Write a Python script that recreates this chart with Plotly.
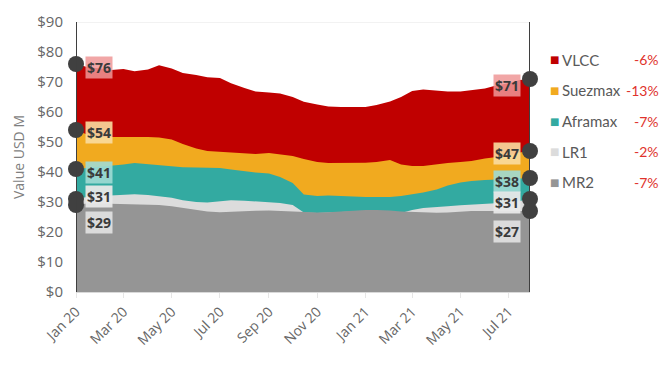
import plotly.graph_objects as go

# ---------------- data ----------------
dates = ["2020-01-01", "2020-01-15", "2020-02-01", "2020-02-15", "2020-03-01", "2020-03-15",
         "2020-04-01", "2020-04-15", "2020-05-01", "2020-05-15", "2020-06-01", "2020-06-15",
         "2020-07-01", "2020-07-15", "2020-08-01", "2020-08-15", "2020-09-01", "2020-09-15",
         "2020-10-01", "2020-10-15", "2020-11-01", "2020-11-15", "2020-12-01", "2020-12-15",
         "2021-01-01", "2021-01-15", "2021-02-01", "2021-02-15", "2021-03-01", "2021-03-15",
         "2021-04-01", "2021-04-15", "2021-05-01", "2021-05-15", "2021-06-01", "2021-06-15",
         "2021-07-01", "2021-07-15", "2021-07-28"]

vlcc = [76, 75, 74.5, 74, 74.3, 73.6, 74.2, 75.6, 74.5, 73, 72.3, 71.6, 71.3, 69.6, 68, 66.8,
        66.5, 66.2, 65, 63.4, 62.5, 61.8, 61.7, 61.8, 61.7, 62.3, 63.5, 65, 67, 67.5, 67.2,
        66.8, 66.8, 67.2, 67.8, 68.8, 69.6, 70.7, 71]
suezmax = [54, 52.5, 51.7, 51.7, 51.7, 51.8, 51.7, 51.5, 50.8, 49.3, 47.8, 47, 46.7, 46.5,
           46.2, 46, 46.3, 45.8, 45.3, 44.3, 43.3, 43, 43, 43, 43.1, 43.3, 44, 42.5, 42, 42,
           42.6, 43, 43.3, 43.7, 44.5, 45, 45.5, 46.5, 47]
aframax = [41, 41.3, 41.7, 42, 42.5, 43, 42.6, 42.2, 41.8, 41.6, 41.5, 41.3, 41.3, 40.8, 40.2,
           39.8, 39.5, 38.3, 36.3, 32.5, 32, 32.2, 32, 31.8, 31.7, 31.7, 31.7, 32, 32.5, 33.2,
           34.2, 35.5, 36.5, 37, 37.3, 37.4, 37.5, 37.8, 38]
lr1 = [31, 31.7, 32, 32.2, 32.4, 32.6, 32.3, 31.8, 31.4, 30.6, 30, 29.8, 30.2, 30.6, 30.4,
       30.2, 29.9, 29.7, 29, 26.5, 26.3, 26.5, 26.6, 26.8, 27, 27, 26.8, 26.3, 27.3, 28, 28.2,
       28.6, 28.9, 29.1, 29.3, 29.5, 29.8, 30.3, 31]
mr2 = [29, 29.5, 29.5, 29.4, 29.3, 29.3, 29.2, 29, 28.6, 28, 27.3, 26.8, 26.6, 26.8, 27, 27.1,
       27.2, 27, 26.8, 26.7, 26.5, 26.6, 26.9, 27.2, 27.3, 27.3, 27.2, 26.8, 26.6, 26.5, 26.4,
       26.5, 26.8, 27, 27, 27, 27, 27, 27]

series_names = ["VLCC", "Suezmax", "Aframax", "LR1", "MR2"]
series_values = [vlcc, suezmax, aframax, lr1, mr2]
pct_change = ["-6%", "-13%", "-7%", "-2%", "-7%"]

tick_vals = ["2020-01-01", "2020-03-01", "2020-05-01", "2020-07-01", "2020-09-01",
             "2020-11-01", "2021-01-01", "2021-03-01", "2021-05-01", "2021-07-01"]
tick_text = ["Jan 20", "Mar 20", "May 20", "Jul 20", "Sep 20", "Nov 20",
             "Jan 21", "Mar 21", "May 21", "Jul 21"]

# ---------------- style ----------------
colors = ["#c00000", "#f1aa1f", "#33aaa1", "#dcdcdc", "#959595"]
label_bg = ["rgba(238,150,150,0.85)", "rgba(250,220,160,0.9)", "rgba(160,218,212,0.9)",
            "rgba(232,232,232,0.95)", "rgba(222,222,222,0.95)"]
left_off = [-1.0, -0.7, -1.0, 0.7, -5.7]
right_off = [-2.0, -0.7, -1.3, -1.3, -6.7]
FONT = "Open Sans"
LEG_FONT = "Lato"

# the page body adds an 8px margin, so the figure is 8px smaller and offset by 8px
OFF = 8
W, H = 670 - OFF, 380 - OFF
PLOT_L, PLOT_R, PLOT_T, PLOT_B = 76, 530, 22, 292   # window pixels
L, T = PLOT_L - OFF, PLOT_T - OFF
R, B = W - (PLOT_R - OFF), H - (PLOT_B - OFF)
PW, PH = PLOT_R - PLOT_L, PLOT_B - PLOT_T


def px_x(x):
    return (x - PLOT_L) / PW


def px_y(y):
    return (PLOT_B - y) / PH


fig = go.Figure()

for name, vals, col in zip(series_names, series_values, colors):
    fig.add_trace(go.Scatter(
        x=dates, y=vals, name=name, mode="lines", fill="tozeroy",
        line=dict(width=0, color=col), fillcolor=col, showlegend=False,
        hoverinfo="x+y+name"))

# end-point markers
for vals in series_values:
    fig.add_trace(go.Scatter(
        x=[dates[0], dates[-1]], y=[vals[0], vals[-1]], mode="markers",
        marker=dict(color="#404040", size=16, line=dict(width=0)),
        cliponaxis=False, showlegend=False, hoverinfo="skip"))

annotations = []
for i, vals in enumerate(series_values):
    annotations.append(dict(
        x=dates[0], y=vals[0] + left_off[i], xref="x", yref="y",
        text="<b>$%d</b>" % round(vals[0]), showarrow=False,
        xanchor="left", xshift=9, yanchor="middle",
        bgcolor=label_bg[i], borderpad=1,
        font=dict(family=FONT, size=14, color="#3a3a3a")))
    annotations.append(dict(
        x=dates[-1], y=vals[-1] + right_off[i], xref="x", yref="y",
        text="<b>$%d</b>" % round(vals[-1]), showarrow=False,
        xanchor="right", xshift=-9, yanchor="middle",
        bgcolor=label_bg[i], borderpad=1,
        font=dict(family=FONT, size=14, color="#3a3a3a")))

# custom legend
for i, name in enumerate(series_names):
    yy = px_y(60 + 30.5 * i)
    annotations.append(dict(
        x=px_x(554), y=yy, xref="paper", yref="paper", text="■", showarrow=False,
        xanchor="center", yanchor="middle",
        font=dict(family="DejaVu Sans", size=10, color=colors[i])))
    annotations.append(dict(
        x=px_x(560), y=yy, xref="paper", yref="paper", text=name, showarrow=False,
        xanchor="left", yanchor="middle",
        font=dict(family=LEG_FONT, size=15, color="#595959")))
    annotations.append(dict(
        x=px_x(661), y=yy, xref="paper", yref="paper", text=pct_change[i],
        showarrow=False, xanchor="right", yanchor="middle",
        font=dict(family=LEG_FONT, size=14, color="#e0322c")))

shapes = [
    dict(type="line", xref="x", yref="y", x0=dates[0], x1=dates[0], y0=0, y1=90,
         line=dict(color="#3f3f3f", width=2), layer="above"),
    dict(type="line", xref="x", yref="y", x0=dates[-1], x1=dates[-1], y0=0, y1=90,
         line=dict(color="#3f3f3f", width=2), layer="above"),
    dict(type="line", xref="paper", yref="y", x0=0, x1=1, y0=90, y1=90,
         line=dict(color="#e6e6e6", width=1), layer="below"),
]

fig.update_layout(
    width=W, height=H,
    margin=dict(l=L, r=R, t=T, b=B),
    paper_bgcolor="white", plot_bgcolor="white",
    annotations=annotations, shapes=shapes,
    xaxis=dict(
        type="date", range=[dates[0], dates[-1]],
        tickvals=tick_vals, ticktext=tick_text, tickangle=-45,
        tickfont=dict(family=FONT, size=14, color="#666666"),
        showgrid=False, zeroline=False, showline=True, linecolor="#d9d9d9",
        ticks="outside", ticklen=5, tickcolor="#e6e6e6", automargin=False),
    yaxis=dict(
        range=[0, 90], dtick=10, tickprefix="$",
        tickfont=dict(family=FONT, size=15, color="#666666"),
        showgrid=False, zeroline=False, showline=False, ticks="",
        ticklabelstandoff=12, automargin=False,
        title=dict(text="Value USD M", standoff=9,
                   font=dict(family=FONT, size=14, color="#7f7f7f"))),
    hovermode="closest",
)

fig.write_html("out.html")
